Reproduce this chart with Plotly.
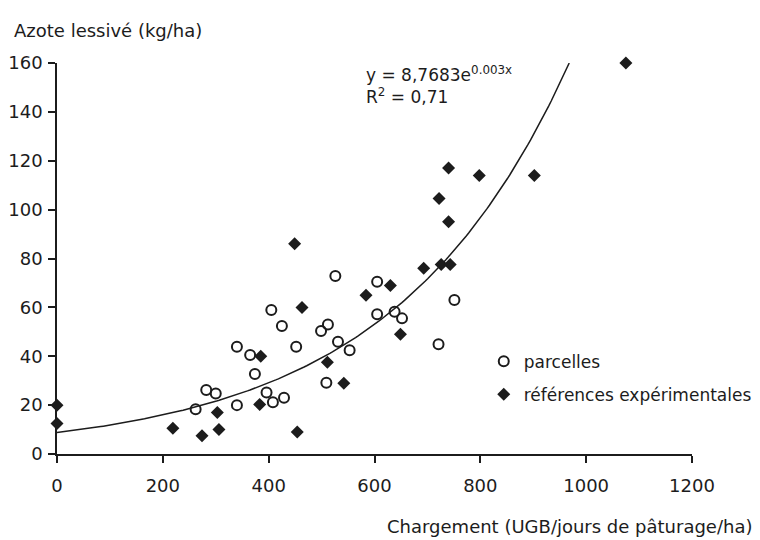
import numpy as np
import plotly.graph_objects as go

# --- data ---
parcelles_x = [262, 282, 300, 340, 340, 365, 374, 405, 396, 408, 425, 429, 452,
               499, 512, 509, 526, 531, 553, 605, 605, 638, 652, 751, 721]
parcelles_y = [18.3, 26.2, 24.8, 20, 43.9, 40.5, 32.7, 58.9, 25.2, 21.2, 52.4, 23, 43.9,
               50.3, 53, 29.2, 72.8, 45.9, 42.5, 70.5, 57.2, 58.2, 55.5, 63, 44.9]

ref_x = [0, 0, 219, 274, 303, 306, 383, 385, 449, 454, 463, 511, 542, 584, 630,
         649, 693, 726, 743, 722, 740, 740, 798, 902, 1075]
ref_y = [20, 12.5, 10.5, 7.5, 17, 10, 20.3, 40, 86, 9, 60, 37.5, 29, 65, 69,
         49, 76, 77.5, 77.5, 104.6, 95, 117, 114, 114, 160]

# trend line coefficients as printed on the chart: y = A * exp(B x)
A_coef = 8.7683
B_coef = 0.003
fit_x_max = 968

x_ticks = [0, 200, 400, 600, 800, 1000, 1200]
y_ticks = [0, 20, 40, 60, 80, 100, 120, 140, 160]

INK = "#1c1c1c"
FONT = "DejaVu Sans, Liberation Sans, Arial, sans-serif"

fit_x = np.linspace(0, fit_x_max, 200)
fit_y = A_coef * np.exp(B_coef * fit_x)

fig = go.Figure()
fig.add_trace(go.Scatter(x=fit_x, y=fit_y, mode="lines",
                         line=dict(color=INK, width=1.5), showlegend=False,
                         hoverinfo="skip", cliponaxis=False))
fig.add_trace(go.Scatter(x=parcelles_x, y=parcelles_y, mode="markers", name="parcelles",
                         legendgroup="a",
                         marker=dict(symbol="circle-open", size=10, color=INK,
                                     line=dict(width=2, color=INK)),
                         cliponaxis=False))
fig.add_trace(go.Scatter(x=ref_x, y=ref_y, mode="markers", name="références expérimentales",
                         legendgroup="b",
                         marker=dict(symbol="diamond", size=10, color=INK),
                         cliponaxis=False))

axis_common = dict(showline=True, linecolor=INK, linewidth=1.5, ticks="outside",
                   ticklen=7, tickwidth=1.5, tickcolor=INK, showgrid=False,
                   zeroline=False, automargin=False,
                   tickfont=dict(family=FONT, size=18, color=INK))

fig.update_xaxes(range=[0, 1200], tickvals=x_ticks, ticklabelstandoff=8, **axis_common)
fig.update_yaxes(range=[0, 160], tickvals=y_ticks, ticklabelstandoff=2, **axis_common)

fig.add_annotation(xref="paper", yref="paper", x=-0.0712, y=1.084, xanchor="left",
                   yanchor="middle", showarrow=False,
                   text="Azote lessivé (kg/ha)",
                   font=dict(family=FONT, size=18, color=INK))
fig.add_annotation(xref="paper", yref="paper", x=1.097, y=-0.1867, xanchor="right",
                   yanchor="middle", showarrow=False,
                   text="Chargement (UGB/jours de pâturage/ha)",
                   font=dict(family=FONT, size=18, color=INK))
fig.add_annotation(xref="paper", yref="paper", x=0.484, y=0.944, xanchor="left",
                   yanchor="middle", showarrow=False, align="left",
                   text="y = 8,7683e<sup>0.003x</sup><br>R<sup>2</sup> = 0,71",
                   font=dict(family=FONT, size=17, color=INK))

fig.update_layout(
    width=760, height=540,
    margin=dict(l=49, r=75, t=55, b=94),
    paper_bgcolor="white", plot_bgcolor="white",
    font=dict(family=FONT, color=INK),
    legend=dict(x=0.671, y=0.194, xanchor="left", yanchor="middle",
                font=dict(family=FONT, size=17, color=INK),
                tracegroupgap=8, bgcolor="rgba(0,0,0,0)", itemwidth=30),
)

fig.write_html("out.html")
